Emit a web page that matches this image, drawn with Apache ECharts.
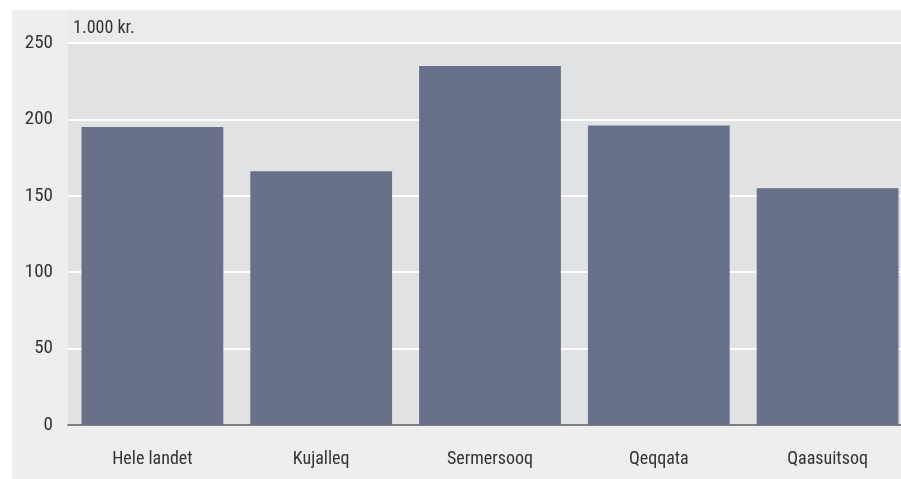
<!DOCTYPE html>
<html><head><meta charset="utf-8">
<script src="https://cdn.jsdelivr.net/npm/echarts@6/dist/echarts.min.js"></script>
<style>html,body{margin:0;padding:0;background:#fff;}#c{width:901px;height:479px;}</style>
</head><body><div id="c"></div>
<script>
var categories = ['Hele landet', 'Kujalleq', 'Sermersooq', 'Qeqqata', 'Qaasuitsoq'];
var values = [195, 166, 235, 196, 155];
var yTicks = [0, 50, 100, 150, 200, 250];
var unitLabel = '1.000 kr.';
var font = '"Roboto Condensed", "Liberation Sans Narrow", Roboto, sans-serif';
var chart = echarts.init(document.getElementById('c'));
chart.setOption({
  backgroundColor: '#ffffff',
  animation: false,
  graphic: [
    {type: 'rect', z: -10, shape: {x: 12, y: 10, width: 889, height: 469}, style: {fill: '#eeeeee'}},
    {type: 'rect', z: -9, shape: {x: 67, y: 10, width: 834, height: 33}, style: {fill: '#ebebeb'}},
    {type: 'text', left: 73, top: 19, style: {text: unitLabel, font: '18px ' + font, fill: '#333'}}
  ],
  grid: {left: 68, width: 844, top: 43, height: 382, outerBoundsMode: 'none', containLabel: false,
    show: true, backgroundColor: '#e1e2e4', borderWidth: 0},
  xAxis: {
    type: 'category', data: categories,
    axisLine: {show: true, lineStyle: {color: '#555', width: 1.5}},
    axisTick: {show: false},
    axisLabel: {color: '#333', fontSize: 18, fontFamily: font, margin: 25}
  },
  yAxis: {
    type: 'value', min: 0, max: 250, interval: 50,
    axisLine: {show: false}, axisTick: {show: false},
    axisLabel: {color: '#333', fontSize: 19, fontFamily: font, margin: 15,
      formatter: function (v) { return yTicks.indexOf(v) >= 0 ? String(v) : ''; }},
    splitLine: {show: true, lineStyle: {color: '#ffffff', width: 2}}
  },
  series: [{
    type: 'bar', data: values, barCategoryGap: '16%',
    itemStyle: {color: '#687189'}
  }]
});
</script></body></html>
